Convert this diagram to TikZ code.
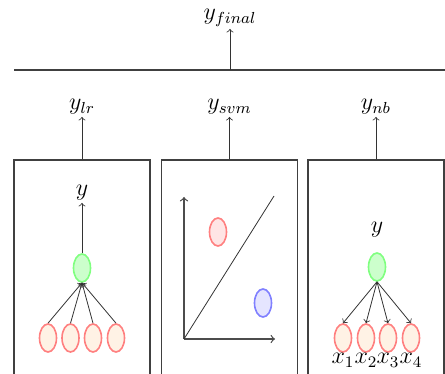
\documentclass[tikz,border=0pt]{standalone}
\usetikzlibrary{positioning,shapes.geometric}
\tikzset{
    modelbox/.style={draw=black!75,semithick,minimum width=68pt,minimum height=108pt,inner sep=0pt},
    feat/.style={ellipse,draw=red!50,fill=orange!10,thick,minimum width=8.5pt,minimum height=14pt,inner sep=0pt},
    hid/.style={ellipse,draw=green!50,fill=green!20,thick,minimum width=8.5pt,minimum height=14pt,inner sep=0pt},
    pt/.style={ellipse,thick,minimum width=8.5pt,minimum height=14pt,inner sep=0pt},
    lbl/.style={font=\large,inner sep=1pt},
    arrow/.style={->,draw=black!80},
    axis/.style={->,draw=black!70,semithick}
}
\begin{document}
\begin{tikzpicture}[x=0.5pt,y=-0.5pt]
    \useasboundingbox (0,0) rectangle (445,374);
    % ensemble output
    \node[lbl] (yfinal) at (230,18) {$y_{final}$};
    \coordinate (barL) at (14,70);
    \coordinate (barR) at (446,70);
    \coordinate (barM) at (230,70);
    \draw[black!75,semithick] (barL) -- (barR);
    \draw[arrow] (barM) -- (yfinal.south);
    % base models
    \node[modelbox] (lr) at (82,268) {};
    \node[modelbox] (svm) at (229.5,268) {};
    \node[modelbox] (nb) at (376,268) {};
    \node[lbl] (ylr) at (82,107) {$y_{lr}$};
    \node[lbl] (ysvm) at (229.5,107) {$y_{svm}$};
    \node[lbl] (ynb) at (376,107) {$y_{nb}$};
    \draw[arrow] (lr.north) -- (ylr.south);
    \draw[arrow] (svm.north) -- (ysvm.south);
    \draw[arrow] (nb.north) -- (ynb.south);
    % logistic regression
    \node[lbl] (lry) at (82,193) {$y$};
    \node[hid] (lrh) at (82,268) {};
    \draw[arrow] (lrh.north) -- (lry.south);
    \foreach \x/\i in {48/1,70.5/2,93/3,116/4} {
        \node[feat] (lrx\i) at (\x,338) {};
        \draw[arrow] (lrx\i.north) -- (lrh.south);
    }
    % svm
    \coordinate (o) at (184,339);
    \coordinate (ytop) at (184,197);
    \coordinate (xend) at (275,339);
    \coordinate (sep) at (274,196);
    \draw[axis] (o) -- (ytop);
    \draw[axis] (o) -- (xend);
    \draw[black!80] (o) -- (sep);
    \node[pt,draw=red!50,fill=red!10] (pos) at (218,232) {};
    \node[pt,draw=blue!50,fill=blue!10] (neg) at (263,303) {};
    % naive bayes
    \node[lbl] (nby) at (377,230) {$y$};
    \node[hid] (nbh) at (377,267) {};
    \foreach \x/\i in {343/1,366/2,388/3,411/4} {
        \node[feat] (nbx\i) at (\x,338) {};
        \node[lbl,below=-1pt of nbx\i] {$x_\i$};
        \draw[arrow] (nbh.south) -- (nbx\i.north);
    }
\end{tikzpicture}
\end{document}
